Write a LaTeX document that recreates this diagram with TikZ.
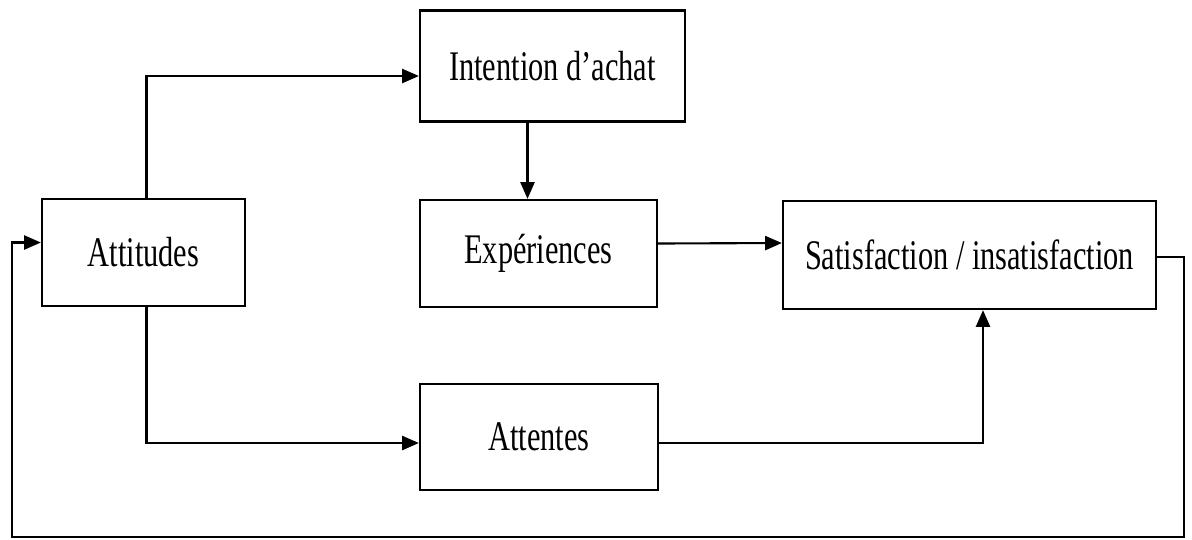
\documentclass[tikz,border=0pt]{standalone}
\usepackage{fontspec}
\setmainfont{Liberation Serif}
\newfontfamily\boxfont[FakeStretch=0.72]{Liberation Serif}
\usetikzlibrary{arrows.meta,calc}

\tikzset{
	box/.style = {draw = black,
				  shape = rectangle,
				  line width = 1.3pt,
				  inner sep = 0pt,
				  font = \boxfont\fontsize{24}{28}\selectfont},
	link/.style = {draw = black,
				   line width = 1.2pt,
				   -{Triangle[length=9.5pt, width=8pt]}}
}

\begin{document}
\begin{tikzpicture}[x = 0.02cm, y = -0.02cm]

	\useasboundingbox (0,0) rectangle (1192,539);

	\draw (552.5,66) node[box,
					 minimum width = 265*0.02cm,
					 minimum height = 111*0.02cm] (intention) {\raisebox{-3pt}{Intention d’achat}};

	\draw (143.5,252.5) node[box,
					 minimum width = 203*0.02cm,
					 minimum height = 107*0.02cm] (attitudes) {\raisebox{-3pt}{Attitudes}};

	\draw (538.5,253.5) node[box,
					 minimum width = 237*0.02cm,
					 minimum height = 107*0.02cm] (experiences) {\raisebox{-3pt}{Expériences}};

	\draw (969.5,255) node[box,
					 minimum width = 373*0.02cm,
					 minimum height = 108*0.02cm] (satisfaction) {\raisebox{-3pt}{Satisfaction / insatisfaction}};

	\draw (539,437) node[box,
					 minimum width = 238*0.02cm,
					 minimum height = 106*0.02cm] (attentes) {\raisebox{-3pt}{Attentes}};

	\coordinate (loopR) at (1184,537);
	\coordinate (loopL) at (12,537);

	\draw[link] ($(attitudes.north)+(3,0)$) |- ($(intention.west)+(0,10)$);
	\draw[link] ($(intention.south)+(-25,0)$) -- ($(experiences.north)+(-11,0)$);
	\draw[link] ($(experiences.east)+(0,-10)$) -- ($(satisfaction.west)+(0,-12)$);
	\draw[link] ($(attitudes.south)+(3,0)$) |- ($(attentes.west)+(0,6)$);
	\draw[link] ($(attentes.east)+(0,6)$) -| ($(satisfaction.south)+(13.5,0)$);

	\draw[link] ($(satisfaction.east)+(0,2)$) -| (loopR) -- (loopL)
			|- ($(attitudes.west)+(0,-10)$);
\end{tikzpicture}
\end{document}
